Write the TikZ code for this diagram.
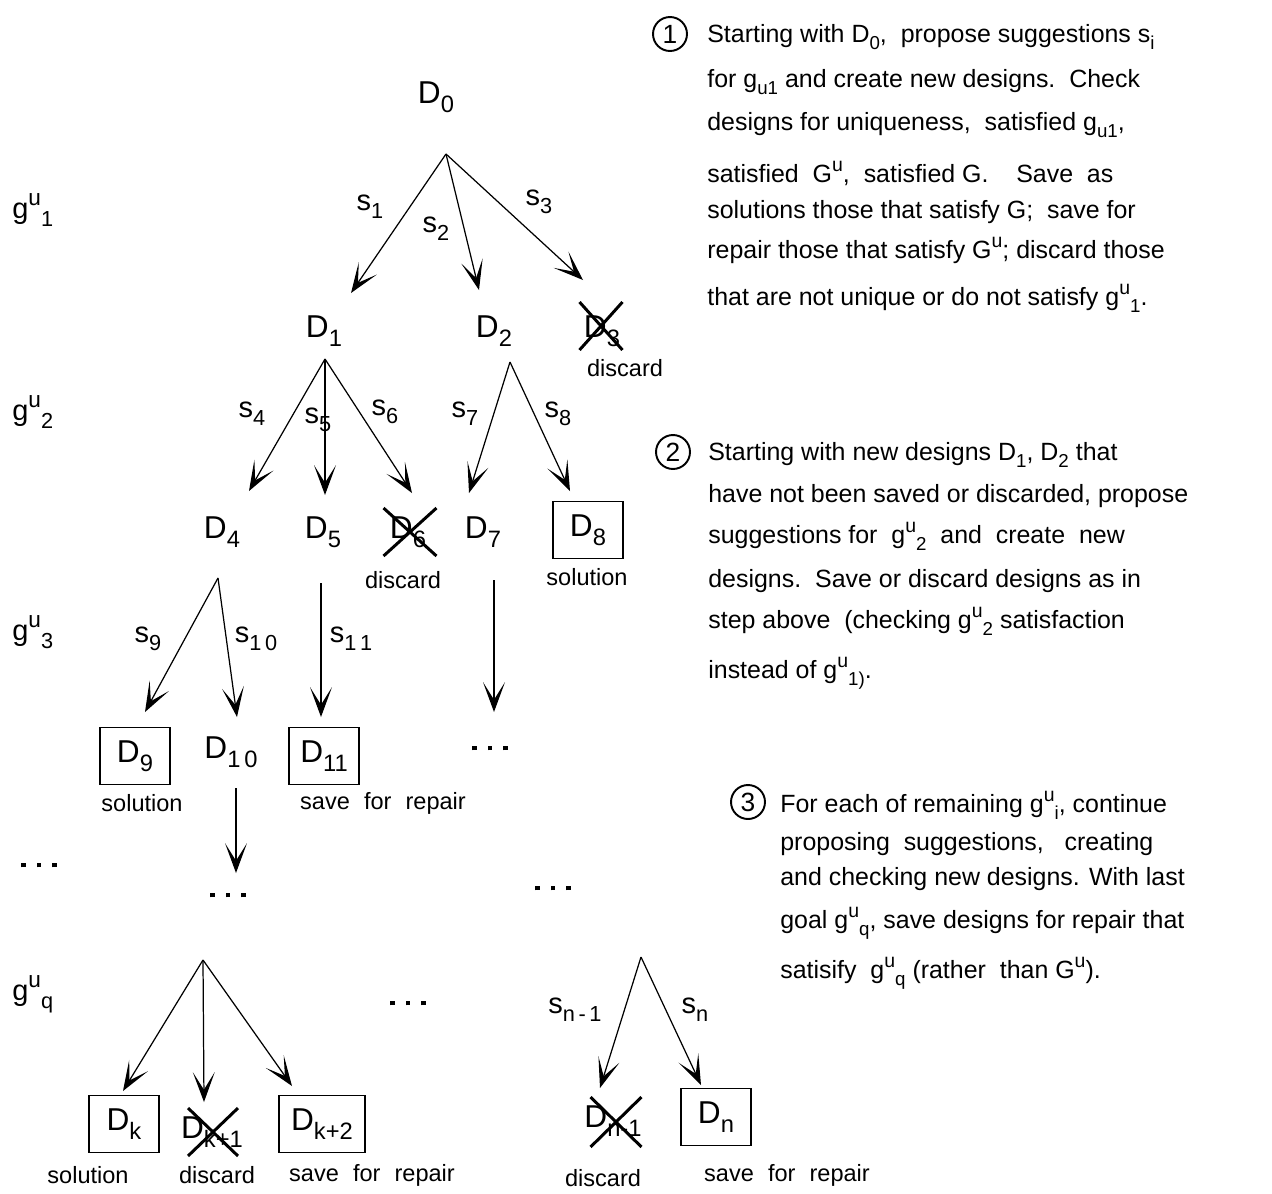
\documentclass[tikz,border=0pt]{standalone}
\usepackage{fontspec}
\setmainfont{Liberation Sans}
\usepackage{graphicx}
\usetikzlibrary{arrows.meta,shapes.misc}
\newcommand{\lo}[1]{\raisebox{-0.55ex}{\scalebox{0.75}{#1}}}
\newcommand{\hi}[1]{\raisebox{0.8ex}{\scalebox{0.78}{#1}}}
\newcommand{\sqdots}{\rule{2.8pt}{2.8pt}\hspace{6.2pt}\rule{2.8pt}{2.8pt}\hspace{6.2pt}\rule{2.8pt}{2.8pt}}
\begin{document}
\begin{tikzpicture}[x=0.02cm,y=-0.02cm,
  dlab/.style={font=\fontsize{18}{20}\selectfont, inner sep=0pt, anchor=base},
  slab/.style={font=\fontsize{16.5}{18}\selectfont, inner sep=0pt, anchor=base},
  glab/.style={font=\fontsize{16.5}{18}\selectfont, inner sep=0pt, anchor=base west},
  small/.style={font=\fontsize{13.4}{15}\selectfont, inner sep=0pt},
  txt/.style={font=\fontsize{14.2}{16}\selectfont, inner sep=0pt, anchor=base west},
  boxed/.style={draw, line width=1.1pt, minimum width=1.4cm, minimum height=1.14cm, inner sep=1pt, font=\fontsize{18}{20}\selectfont},
  xmark/.style={cross out, draw, line width=1.7pt, inner sep=0pt},
  arr/.style={line width=0.7pt, -{Stealth[length=17pt,width=12.5pt,inset=10pt]}},
  num/.style={circle, draw, line width=1.1pt, minimum size=0.68cm, inner sep=0pt, font=\fontsize{15}{17}\selectfont},
  dots/.style={inner sep=0pt}
]
\useasboundingbox (0,0) rectangle (1272,1194);

% ---------- left goal labels ----------
\node[glab] (g1) at (12,218) {g\hi{u}\lo{1}};
\node[glab] (g2) at (12,420) {g\hi{u}\lo{2}};
\node[glab] (g3) at (12,640) {g\hi{u}\lo{3}};
\node[dots] (gd) at (39,865) {\sqdots};
\node[glab] (gq) at (12,1000) {g\hi{u}\lo{q}};

% ---------- level 0 -> 1 ----------
\node[dlab] (D0) at (436,103) {D\lo{0}};
\coordinate (r0) at (446,154);
\coordinate (a1) at (351,293);
\coordinate (a2) at (479,290);
\coordinate (a3) at (583,280);
\draw[arr] (r0) -- (a1);
\draw[arr] (r0) -- (a2);
\draw[arr] (r0) -- (a3);
\node[slab] (s1) at (370,210) {s\lo{1}};
\node[slab] (s2) at (436,232) {s\lo{2}};
\node[slab] (s3) at (539,205) {s\lo{3}};

\node[dlab] (D1) at (324,337) {D\lo{1}};
\node[dlab] (D2) at (494,337) {D\lo{2}};
\node[dlab] (D3) at (602,337) {D\lo{3}};
\node[xmark, minimum width=0.8cm, minimum height=0.9cm] (X3) at (601,326) {};
\node[small] (c3) at (625,368) {discard};

% ---------- level 1 -> 2 ----------
\coordinate (r1) at (325,359);
\coordinate (a4) at (249,491);
\coordinate (a5) at (325,495);
\coordinate (a6) at (412,493);
\draw[arr] (r1) -- (a4);
\draw[arr] (r1) -- (a5);
\draw[arr] (r1) -- (a6);
\coordinate (r2) at (510,362);
\coordinate (a7) at (469,493);
\coordinate (a8) at (570,491);
\draw[arr] (r2) -- (a7);
\draw[arr] (r2) -- (a8);
\node[slab] (s4) at (252,417) {s\lo{4}};
\node[slab] (s5) at (318,423) {s\lo{5}};
\node[slab] (s6) at (385,415) {s\lo{6}};
\node[slab] (s7) at (465,417) {s\lo{7}};
\node[slab] (s8) at (558,417) {s\lo{8}};

\node[dlab] (D4) at (222,538) {D\lo{4}};
\node[dlab] (D5) at (323,538) {D\lo{5}};
\node[dlab] (D6) at (408,538) {D\lo{6}};
\node[xmark, minimum width=1.0cm, minimum height=0.9cm] (X6) at (410,532) {};
\node[small] (c6) at (403,580) {discard};
\node[dlab] (D7) at (483,538) {D\lo{7}};
\node[boxed] (D8) at (588,530) {D\lo{8}};
\node[small] (c8) at (587,577) {solution};

% ---------- level 2 -> 3 ----------
\coordinate (r4) at (218,578);
\coordinate (a9) at (145,712);
\coordinate (a10) at (237,717);
\draw[arr] (r4) -- (a9);
\draw[arr] (r4) -- (a10);
\coordinate (r5) at (321,583);
\coordinate (a11) at (321,717);
\draw[arr] (r5) -- (a11);
\coordinate (r7) at (494,580);
\coordinate (a7d) at (494,712);
\draw[arr] (r7) -- (a7d);
\node[slab] (s9) at (148,642) {s\lo{9}};
\node[slab] (s10) at (256,642) {s\lo{1\,0}};
\node[slab] (s11) at (351,642) {s\lo{1\,1}};

\node[boxed] (D9) at (135,756) {D\lo{9}};
\node[dlab] (D10) at (231,758) {D\lo{1\,0}};
\node[boxed] (D11) at (324,756) {D\lo{11}};
\node[small] (c9) at (142,803) {solution};
\node[small] (c11) at (383,803) {save\hspace{0.6em}for\hspace{0.6em}repair};
\node[dots] (e7) at (490,748) {\sqdots};

\coordinate (r10) at (236,788);
\coordinate (a10d) at (236,873);
\draw[arr] (r10) -- (a10d);
\node[dots] (e10) at (228,895) {\sqdots};
\node[dots] (em) at (553,888) {\sqdots};

% ---------- level q ----------
\coordinate (rq) at (203,960);
\coordinate (ak) at (123,1091);
\coordinate (ak1) at (204,1102);
\coordinate (ak2) at (292,1086);
\draw[arr] (rq) -- (ak);
\draw[arr] (rq) -- (ak1);
\draw[arr] (rq) -- (ak2);
\node[boxed] (Dk) at (124,1124) {D\lo{k}};
\node[dlab] (Dk1) at (212,1138) {D\lo{k+1}};
\node[xmark, minimum width=0.94cm, minimum height=0.9cm] (Xk1) at (213,1132) {};
\node[boxed, minimum width=1.72cm] (Dk2) at (322,1124) {D\lo{k+2}};
\node[small] (ck) at (88,1175) {solution};
\node[small] (ck1) at (217,1175) {discard};
\node[small] (ck2) at (372,1175) {save\hspace{0.6em}for\hspace{0.6em}repair};
\node[dots] (eq) at (408,1003) {\sqdots};

\coordinate (rn) at (641,957);
\coordinate (an1) at (600,1088);
\coordinate (an) at (701,1085);
\draw[arr] (rn) -- (an1);
\draw[arr] (rn) -- (an);
\node[slab] (sn1) at (575,1013) {s\lo{n\,-\,1}};
\node[slab] (sn) at (695,1013) {s\lo{n}};
\node[dlab] (Dn1) at (613,1127) {D\lo{n-1}};
\node[xmark, minimum width=0.96cm, minimum height=0.94cm] (Xn1) at (616,1122) {};
\node[boxed] (Dn) at (716,1117) {D\lo{n}};
\node[small] (cn1) at (603,1178) {discard};
\node[small] (cn) at (787,1175) {save\hspace{0.6em}for\hspace{0.6em}repair};

% ---------- text block 1 ----------
\node[num] (n1) at (670,34) {1};
\node[txt] (t11) at (707,42) {Starting with D\lo{0},\ \ propose suggestions s\lo{i}};
\node[txt] (t12) at (707,87) {for g\lo{u1} and create new designs.\ \ Check};
\node[txt] (t13) at (707,130) {designs for uniqueness,\ \ satisfied g\lo{u1},};
\node[txt] (t14) at (707,182) {satisfied\ \ G\hi{u},\ \ satisfied G.\ \ \ \ Save\ \ as};
\node[txt] (t15) at (707,218) {solutions those that satisfy G;\ \ save for};
\node[txt] (t16) at (707,258) {repair those that satisfy G\hi{u}; discard those};
\node[txt] (t17) at (707,305) {that are not unique or do not satisfy g\hi{u}\lo{1}.};

% ---------- text block 2 ----------
\node[num] (n2) at (673,452) {2};
\node[txt] (t21) at (708,460) {Starting with new designs D\lo{1}, D\lo{2} that};
\node[txt] (t22) at (708,502) {have not been saved or discarded, propose};
\node[txt] (t23) at (708,543) {suggestions for\ \ g\hi{u}\lo{2}\ \ and\ \ create\ \ new};
\node[txt] (t24) at (708,587) {designs.\ \ Save or discard designs as in};
\node[txt] (t25) at (708,628) {step above\ \ (checking g\hi{u}\lo{2} satisfaction};
\node[txt] (t26) at (708,678) {instead of g\hi{u}\lo{1)}.};

% ---------- text block 3 ----------
\node[num] (n3) at (748,802) {3};
\node[txt] (t31) at (780,812) {For each of remaining g\hi{u}\lo{i}, continue};
\node[txt] (t32) at (780,850) {proposing\ \ suggestions,\ \ \ creating};
\node[txt] (t33) at (780,885) {and checking new designs. With last};
\node[txt] (t34) at (780,928) {goal g\hi{u}\lo{q}, save designs for repair that};
\node[txt] (t35) at (780,978) {satisify\ \ g\hi{u}\lo{q} (rather\ \ than G\hi{u}).};
\end{tikzpicture}
\end{document}
